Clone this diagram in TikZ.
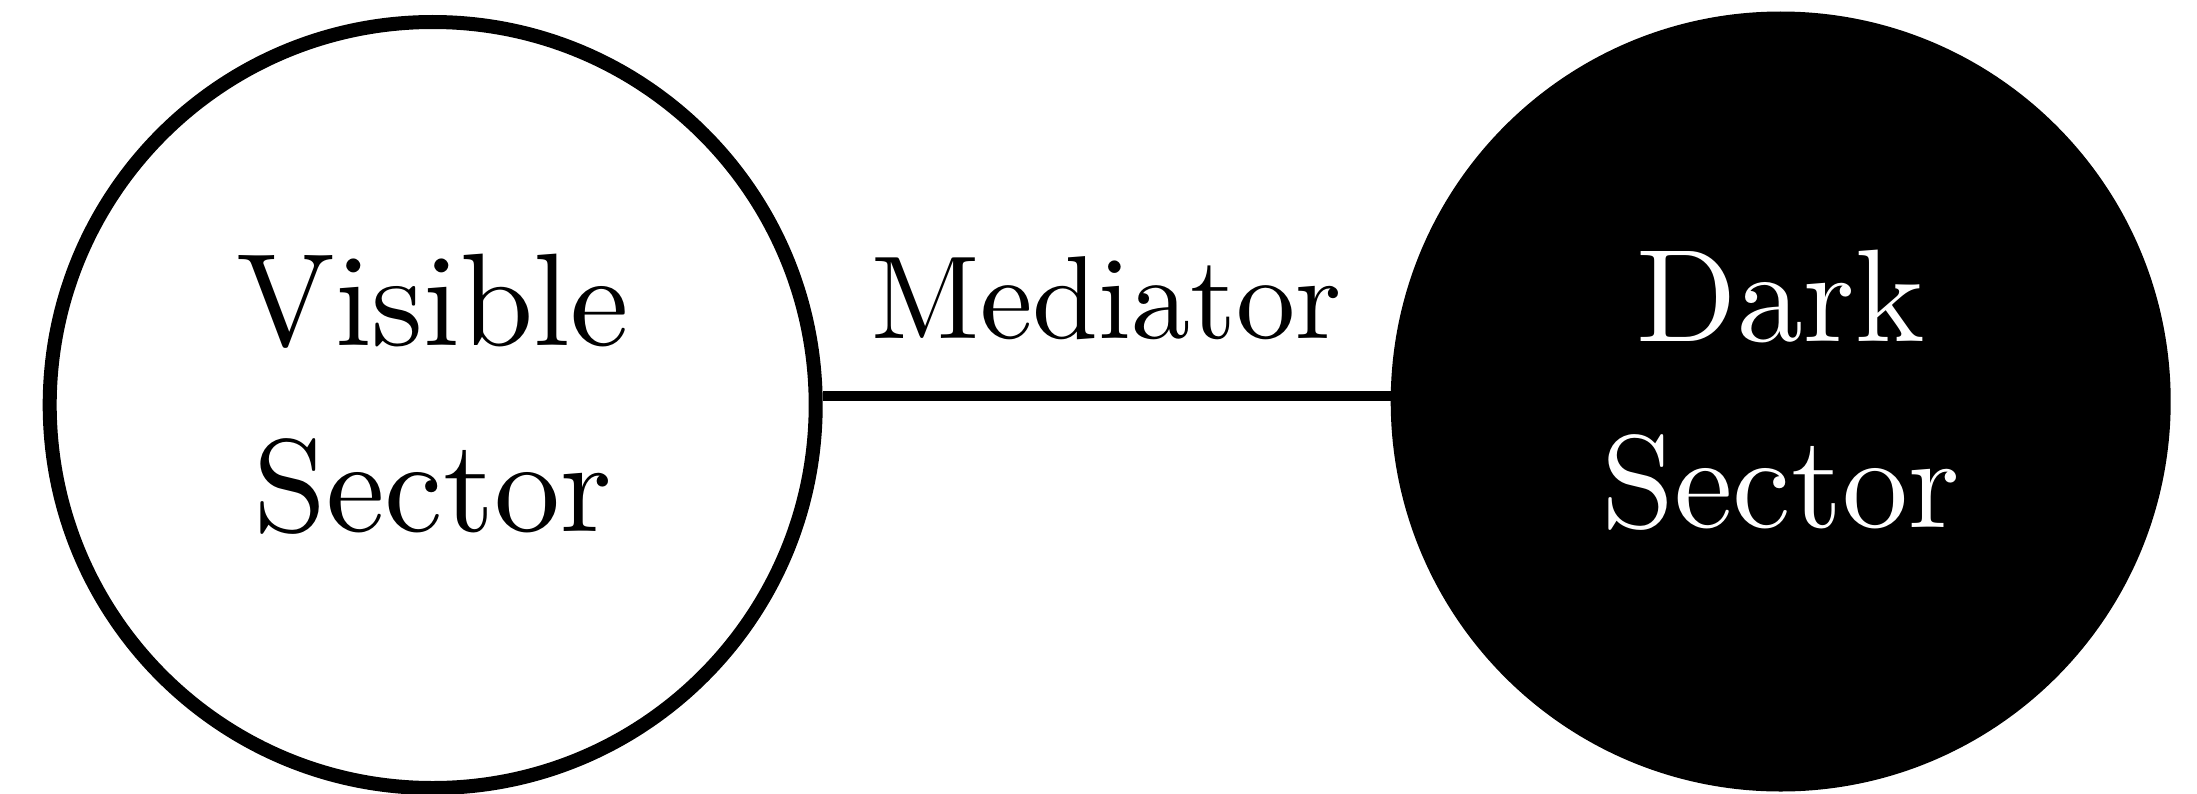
\documentclass[tikz,border=0pt]{standalone}
\usepackage{fontspec}
\setmainfont{lmroman10-regular.otf}
\tikzset{
    sector/.style={circle, draw=black, line width=0.14cm, minimum size=7.66cm,
        inner sep=0pt, align=center, text depth=0.25cm,
        font=\fontsize{37.5}{53}\selectfont},
    visible/.style={sector, fill=white},
    dark/.style={sector, fill=black, text=white},
    link/.style={line width=0.107cm},
}
\begin{document}
\begin{tikzpicture}
    \useasboundingbox (0,0) rectangle (21.97,7.93);

    % Sectors
    \node[visible] (vis) at (4.327, 3.88) {Visible\\Sector};
    \node[dark] (dark) at (17.807, 3.915) {Dark\\Sector};

    % Mediator
    \coordinate (mid) at (11.067, 3.97);
    \draw[link] (vis.east |- mid) -- (dark.west |- mid)
        node[midway, above=0.51cm, inner sep=0pt, font=\fontsize{33.6}{40}\selectfont] (med) {Mediator};
\end{tikzpicture}
\end{document}
